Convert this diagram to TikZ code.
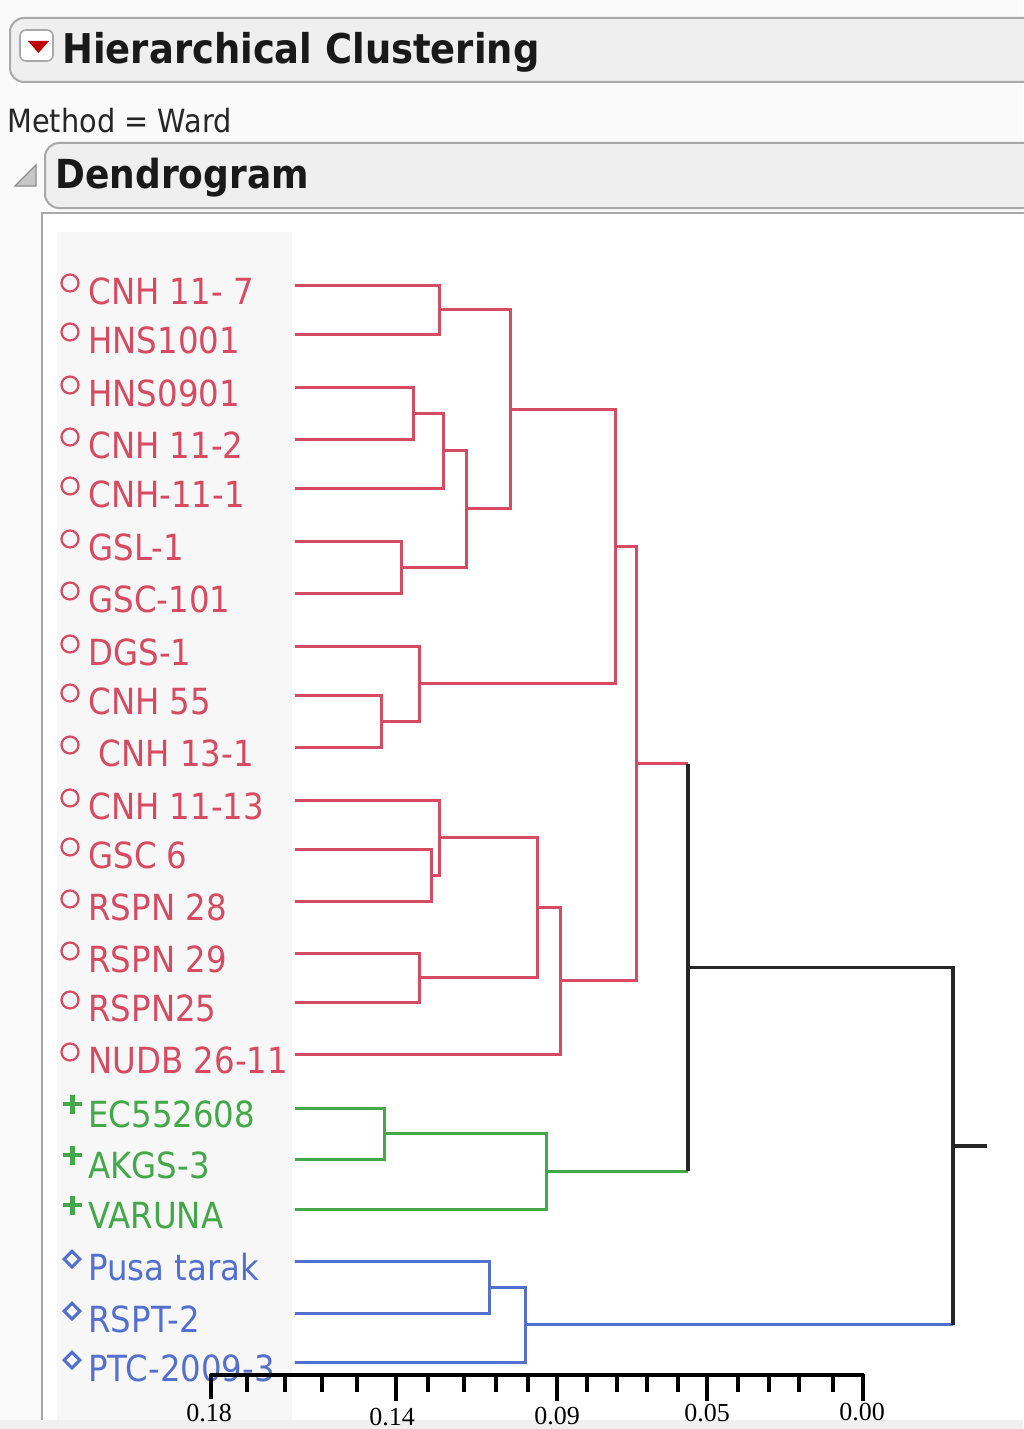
\documentclass[tikz,border=0pt]{standalone}
\usepackage{fontspec}
\usepackage{xcolor}
\usepackage{tikz}
\usetikzlibrary{shapes.geometric}
\newfontfamily\jmpfont[FakeStretch=0.9]{DejaVu Sans}
\newfontfamily\axisfont{Liberation Serif}
\definecolor{redc}{RGB}{214,74,98}
\definecolor{greenc}{RGB}{66,168,72}
\definecolor{bluec}{RGB}{84,112,206}
\definecolor{framec}{RGB}{168,168,168}
\definecolor{barc}{RGB}{239,239,239}

\begin{document}
\begin{tikzpicture}[x=0.5pt,y=-0.5pt,
        lab/.style={anchor=base west,inner sep=0pt,font=\jmpfont\fontsize{18pt}{18pt}\selectfont},
        ring/.style={circle,draw=redc,line width=1.1pt,minimum size=8.5pt,inner sep=0pt},
        rhomb/.style={diamond,draw=bluec,line width=1.5pt,minimum size=8.5pt,inner sep=0pt},
        redl/.style={draw=redc,line width=1.5pt},
        greenl/.style={draw=greenc,line width=1.5pt},
        bluel/.style={draw=bluec,line width=1.5pt},
        blackl/.style={draw=black!85,line width=1.8pt},
        axtick/.style={line width=1.6pt},
        ticklab/.style={inner sep=0pt,font=\axisfont\fontsize{13pt}{13pt}\selectfont}]
        \useasboundingbox (0,0) rectangle (1023,1429);
        \fill[black!2] (0,0) rectangle (1023,1429);
        \draw[framec,fill=barc,rounded corners=7pt,line width=1pt] (10,18) rectangle (1040,82);
        \draw[framec,fill=white,rounded corners=3pt,line width=0.8pt] (20,30) rectangle (53,61);
        \fill[red!75!black] (28,41) -- (49,41) -- (38.5,53) -- cycle;
        \node at (62,64) [anchor=base west,inner sep=0pt,text=black!90,font=\jmpfont\bfseries\fontsize{20.5pt}{21pt}\selectfont] (title) {Hierarchical Clustering};
        \node at (7,133) [anchor=base west,inner sep=0pt,text=black!85,font=\jmpfont\fontsize{16pt}{16pt}\selectfont] (method) {Method = Ward};
        \draw[framec,fill=barc,rounded corners=7pt,line width=1pt] (45,143) rectangle (1040,208);
        \draw[black!45,fill=black!22,line width=0.6pt] (15,186) -- (36,186) -- (36,165) -- cycle;
        \node at (55,188) [anchor=base west,inner sep=0pt,text=black!90,font=\jmpfont\bfseries\fontsize{20pt}{20pt}\selectfont] (dtitle) {Dendrogram};
        \fill[white] (42,213) rectangle (1040,1420);
        \draw[framec,line width=1.3pt] (42,1420) -- (42,213) -- (1040,213);
        \fill[black!3] (57,232) rectangle (292,1420);
        \fill[black!6] (0,1420) rectangle (1023,1429);

        \node at (88,304) [lab,text=redc] (t1) {CNH 11- 7};
        \node at (88,353) [lab,text=redc] (t2) {HNS1001};
        \node at (88,406) [lab,text=redc] (t3) {HNS0901};
        \node at (88,458) [lab,text=redc] (t4) {CNH 11-2};
        \node at (88,507) [lab,text=redc] (t5) {CNH-11-1};
        \node at (88,560) [lab,text=redc] (t6) {GSL-1};
        \node at (88,612) [lab,text=redc] (t7) {GSC-101};
        \node at (88,665) [lab,text=redc] (t8) {DGS-1};
        \node at (88,714) [lab,text=redc] (t9) {CNH 55};
        \node at (88,766) [lab,text=redc] (t10) {\ CNH 13-1};
        \node at (88,819) [lab,text=redc] (t11) {CNH 11-13};
        \node at (88,868) [lab,text=redc] (t12) {GSC 6};
        \node at (88,920) [lab,text=redc] (t13) {RSPN 28};
        \node at (88,972) [lab,text=redc] (t14) {RSPN 29};
        \node at (88,1021) [lab,text=redc] (t15) {RSPN25};
        \node at (88,1073) [lab,text=redc] (t16) {NUDB 26-11};
        \node at (88,1127) [lab,text=greenc] (t17) {EC552608};
        \node at (88,1178) [lab,text=greenc] (t18) {AKGS-3};
        \node at (88,1228) [lab,text=greenc] (t19) {VARUNA};
        \node at (88,1280) [lab,text=bluec] (t20) {Pusa tarak};
        \node at (88,1332) [lab,text=bluec] (t21) {RSPT-2};
        \node at (88,1381) [lab,text=bluec] (t22) {PTC-2009-3};

        \node at (70,283) [ring] (c1) {};
        \node at (70,332) [ring] (c2) {};
        \node at (70,385) [ring] (c3) {};
        \node at (70,437) [ring] (c4) {};
        \node at (70,486) [ring] (c5) {};
        \node at (70,539) [ring] (c6) {};
        \node at (70,591) [ring] (c7) {};
        \node at (70,644) [ring] (c8) {};
        \node at (70,693) [ring] (c9) {};
        \node at (70,745) [ring] (c10) {};
        \node at (70,798) [ring] (c11) {};
        \node at (70,847) [ring] (c12) {};
        \node at (70,899) [ring] (c13) {};
        \node at (70,951) [ring] (c14) {};
        \node at (70,1000) [ring] (c15) {};
        \node at (70,1052) [ring] (c16) {};
        \draw[greenc,line width=2.2pt] (63,1104) -- (82,1104) (72.5,1094.5) -- (72.5,1113.5);
        \draw[greenc,line width=2.2pt] (63,1155) -- (82,1155) (72.5,1145.5) -- (72.5,1164.5);
        \draw[greenc,line width=2.2pt] (63,1205) -- (82,1205) (72.5,1195.5) -- (72.5,1214.5);
        \node at (72,1259) [rhomb] (d20) {};
        \node at (72,1311) [rhomb] (d21) {};
        \node at (72,1360) [rhomb] (d22) {};

        \coordinate (l1) at (295,285);
        \coordinate (l2) at (295,334);
        \coordinate (l3) at (295,387);
        \coordinate (l4) at (295,439);
        \coordinate (l5) at (295,488);
        \coordinate (l6) at (295,541);
        \coordinate (l7) at (295,593);
        \coordinate (l8) at (295,646);
        \coordinate (l9) at (295,695);
        \coordinate (l10) at (295,747);
        \coordinate (l11) at (295,800);
        \coordinate (l12) at (295,849);
        \coordinate (l13) at (295,901);
        \coordinate (l14) at (295,953);
        \coordinate (l15) at (295,1002);
        \coordinate (l16) at (295,1054);
        \coordinate (l17) at (295,1108);
        \coordinate (l18) at (295,1159);
        \coordinate (l19) at (295,1209);
        \coordinate (l20) at (295,1261);
        \coordinate (l21) at (295,1313);
        \coordinate (l22) at (295,1362);

        \coordinate (m1) at (439,309.5);
        \draw[redl] (l1) -| (m1) |- (l2);
        \coordinate (m2) at (413,413);
        \draw[redl] (l3) -| (m2) |- (l4);
        \coordinate (m3) at (443,450.5);
        \draw[redl] (m2) -| (m3) |- (l5);
        \coordinate (m4) at (401,567);
        \draw[redl] (l6) -| (m4) |- (l7);
        \coordinate (m5) at (466,508.8);
        \draw[redl] (m3) -| (m5) |- (m4);
        \coordinate (m6) at (510,409.1);
        \draw[redl] (m1) -| (m6) |- (m5);
        \coordinate (m7) at (381,721);
        \draw[redl] (l9) -| (m7) |- (l10);
        \coordinate (m8) at (419,683.5);
        \draw[redl] (l8) -| (m8) |- (m7);
        \coordinate (m9) at (615,546.3);
        \draw[redl] (m6) -| (m9) |- (m8);
        \coordinate (m10) at (431,875);
        \draw[redl] (l12) -| (m10) |- (l13);
        \coordinate (m11) at (439,837.5);
        \draw[redl] (l11) -| (m11) |- (m10);
        \coordinate (m12) at (419,977.5);
        \draw[redl] (l14) -| (m12) |- (l15);
        \coordinate (m13) at (537,907.5);
        \draw[redl] (m11) -| (m13) |- (m12);
        \coordinate (m14) at (560,980.8);
        \draw[redl] (m13) -| (m14) |- (l16);
        \coordinate (m15) at (636,763.5);
        \draw[redl] (m9) -| (m15) |- (m14);
        \coordinate (m16) at (384,1133.5);
        \draw[greenl] (l17) -| (m16) |- (l18);
        \coordinate (m17) at (546,1171.3);
        \draw[greenl] (m16) -| (m17) |- (l19);
        \coordinate (m19) at (489,1287);
        \draw[bluel] (l20) -| (m19) |- (l21);
        \coordinate (m20) at (525,1324.5);
        \draw[bluel] (m19) -| (m20) |- (l22);

        \coordinate (m18) at (688,967.4);
        \coordinate (m21) at (953,1146);
        \coordinate (tail) at (987,1146);
        \draw[redl] (m15) -- (m15 -| m18);
        \draw[greenl] (m17) -- (m17 -| m18);
        \draw[bluel] (m20) -- (m20 -| m21);
        \draw[blackl] (m15 -| m18) -- (m17 -| m18);
        \draw[blackl] (m18) -| (m21) -- (m20 -| m21);
        \draw[blackl] (m21) -- (tail);

        \draw[line width=2pt] (210,1375) -- (864,1375);
        \draw[axtick] (211,1374) -- (211,1399) (396,1375) -- (396,1401) (557,1375) -- (557,1401)
                (707,1375) -- (707,1401) (863,1374) -- (863,1401);
        \draw[axtick] (247,1375) -- ++(0,17) (285,1375) -- ++(0,17) (322,1375) -- ++(0,17)
                (357,1375) -- ++(0,17) (428,1375) -- ++(0,17) (464,1375) -- ++(0,17)
                (496,1375) -- ++(0,17) (528,1375) -- ++(0,17) (587,1375) -- ++(0,17)
                (617,1375) -- ++(0,17) (647,1375) -- ++(0,17) (678,1375) -- ++(0,17)
                (738,1375) -- ++(0,17) (769,1375) -- ++(0,17) (799,1375) -- ++(0,17)
                (833,1375) -- ++(0,17);
        \node at (209,1413) [ticklab] (v18) {0.18};
        \node at (392,1417) [ticklab] (v14) {0.14};
        \node at (557,1416) [ticklab] (v09) {0.09};
        \node at (707,1413) [ticklab] (v05) {0.05};
        \node at (862,1412) [ticklab] (v00) {0.00};
\end{tikzpicture}
\end{document}
